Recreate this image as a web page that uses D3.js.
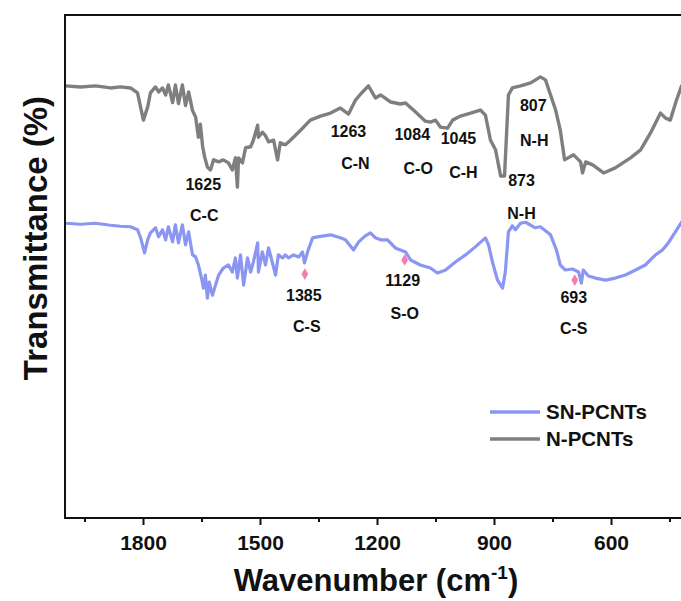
<!DOCTYPE html>
<html>
<head>
<meta charset="utf-8">
<script src="https://cdn.jsdelivr.net/npm/d3@7/dist/d3.min.js"></script>
<style>
  html, body { margin: 0; padding: 0; background: #fff; }
  svg { display: block; }
  text { font-family: "Liberation Sans", Arial, sans-serif; font-weight: bold; fill: #111; }
</style>
</head>
<body>
<svg id="chart" width="681" height="601"></svg>
<script>
// FTIR spectra: wavenumber (cm-1) and transmittance (arb. %)
const nWavenumber = [1999,1960,1922,1883,1858,1832,1814,1799,1788,1781,1768,1760,1750,1742,1735,1724,1717,1709,1699,1691,1683,1673,1665,1658,1653,1647,1642,1635,1627,1619,1606,1594,1581,1571,1563,1558,1555,1545,1537,1524,1517,1506,1504,1494,1486,1478,1465,1455,1448,1435,1422,1396,1371,1345,1319,1294,1273,1255,1237,1222,1204,1191,1165,1140,1127,1101,1076,1063,1050,1037,1019,1006,986,960,935,922,909,896,883,873,863,853,832,806,781,768,755,742,730,719,696,678,673,665,647,619,589,550,524,499,473,460,448,432,419,401];
const nTransmittance = [85.9,85.7,85.9,85.5,85.7,85.5,84.5,79.1,81.7,84.5,85.7,84.7,85.5,84.1,86.1,82.6,86.1,82.4,86.1,82.0,84.7,81.0,79.7,75.7,78.3,73.8,71.8,69.8,69.2,71.2,70.8,71.2,70.6,69.2,71.6,65.8,71.6,70.6,73.6,73.8,75.1,78.1,75.7,76.7,76.0,74.8,75.1,71.2,74.6,74.2,75.1,77.1,79.1,79.9,80.5,81.5,80.3,83.1,84.7,85.9,83.5,84.1,82.7,82.3,82.5,80.7,78.9,78.7,79.1,77.7,77.5,79.1,79.9,80.5,81.1,80.1,75.1,73.2,68.0,68.0,84.1,85.5,85.9,86.5,87.7,87.1,84.1,81.1,77.1,71.2,72.2,70.8,68.6,70.8,70.2,68.6,69.6,71.6,73.2,76.5,80.5,79.5,79.1,83.1,85.9,87.1];

const snWavenumber = [1999,1960,1922,1883,1858,1832,1814,1806,1796,1788,1781,1768,1760,1750,1742,1735,1724,1717,1709,1699,1691,1683,1673,1665,1658,1650,1645,1640,1635,1630,1622,1614,1606,1594,1581,1571,1563,1558,1550,1542,1532,1524,1517,1506,1504,1494,1486,1478,1468,1460,1453,1442,1435,1427,1414,1401,1391,1386,1378,1365,1353,1319,1294,1281,1260,1247,1230,1217,1204,1191,1173,1153,1140,1127,1114,1089,1063,1045,1024,999,973,948,922,914,904,891,878,871,863,853,845,832,819,794,781,755,740,730,717,699,683,676,671,658,640,614,589,563,537,512,486,468,453,435,419,401];
const snTransmittance = [58.6,58.4,58.6,58.2,58.0,57.9,57.3,55.7,52.7,55.3,56.7,57.7,55.9,57.3,55.3,57.9,54.9,58.3,54.7,58.3,54.3,56.9,52.3,51.9,50.3,47.7,45.7,48.3,43.7,46.9,44.3,46.3,48.3,49.7,50.3,48.9,51.7,47.7,52.3,46.3,51.7,48.9,50.9,54.7,48.9,52.9,50.3,53.7,50.7,48.3,52.3,51.7,52.3,51.7,52.3,51.9,52.9,50.7,52.9,55.7,55.9,56.3,55.7,55.3,53.3,54.9,56.1,56.7,55.7,55.3,55.3,53.7,53.3,52.9,51.3,50.3,49.7,48.7,49.3,50.9,52.3,53.9,55.7,54.3,50.9,47.3,45.7,48.9,56.9,58.1,57.3,58.6,58.8,57.7,57.9,56.3,53.3,50.3,49.3,49.5,48.9,46.7,49.3,48.1,47.7,47.3,47.7,48.3,49.3,50.3,52.3,53.3,54.7,56.9,58.8,60.2];

const seriesNames = ["SN-PCNTs", "N-PCNTs"];
const seriesColors = ["#8b96f3", "#7f7f7f"];

// Band assignments
const nBands = [1625, 1263, 1084, 1045, 807, 873];
const nBondLabels = ["C-C", "C-N", "C-O", "C-H", "N-H", "N-H"];
const snBands = [1385, 1129, 693];
const snBondLabels = ["C-S", "S-O", "C-S"];
const snMarkerLevel = [48.5, 51.3, 47.3];

const majorTicks = [1800, 1500, 1200, 900, 600];
const minorTicks = [1950, 1650, 1350, 1050, 750, 450];

// Annotation placement: horizontal shift from the band position, baselines in px
const nLabelLayout = [
  {dx: -8, bdx: -7, num: 190, bond: 221},
  {dx: -4, bdx: 3, num: 137, bond: 169},
  {dx: -10, bdx: -4, num: 140, bond: 174},
  {dx: 21, bdx: 26, num: 144, bond: 178},
  {dx: 3, bdx: 4, num: 111, bond: 146},
  {dx: 17, bdx: 17, num: 186, bond: 219}
];
const snLabelLayout = [
  {dx: -1, bdx: 2, num: 301, bond: 332},
  {dx: -2, bdx: 0, num: 286, bond: 319},
  {dx: -1, bdx: -1, num: 303, bond: 334}
];

const margin = {left: 65, top: 15, bottom: 518};
const svg = d3.select("#chart");

const x = d3.scaleLinear().domain([2000, 400]).range([margin.left, margin.left + 1600 * 0.39]);
const y = d3.scaleLinear().domain([0, 100]).range([margin.bottom, margin.top]);

svg.append("defs").append("clipPath").attr("id", "plotClip")
  .append("rect")
  .attr("x", margin.left).attr("y", margin.top)
  .attr("width", x(400) - margin.left).attr("height", margin.bottom - margin.top);

const line = d3.line().x(d => x(d[0])).y(d => y(d[1])).curve(d3.curveLinear);

const plot = svg.append("g").attr("clip-path", "url(#plotClip)");

plot.append("path")
  .datum(nWavenumber.map((w, i) => [w, nTransmittance[i]]))
  .attr("fill", "none").attr("stroke", seriesColors[1])
  .attr("stroke-width", 3.4).attr("stroke-linejoin", "round")
  .attr("d", line);

plot.append("path")
  .datum(snWavenumber.map((w, i) => [w, snTransmittance[i]]))
  .attr("fill", "none").attr("stroke", seriesColors[0])
  .attr("stroke-width", 3.2).attr("stroke-linejoin", "round")
  .attr("d", line);

// Frame
svg.append("rect")
  .attr("x", margin.left).attr("y", margin.top)
  .attr("width", x(400) - margin.left).attr("height", margin.bottom - margin.top)
  .attr("fill", "none").attr("stroke", "#111").attr("stroke-width", 2);

// Bottom axis
const axisMajor = d3.axisBottom(x).tickValues(majorTicks).tickSize(7).tickPadding(10).tickFormat(d3.format("d"));
const axisMinor = d3.axisBottom(x).tickValues(minorTicks).tickSize(4).tickFormat("");

const gMinor = svg.append("g").attr("transform", `translate(0,${margin.bottom})`).call(axisMinor);
gMinor.select(".domain").remove();
gMinor.selectAll("line").attr("stroke", "#111").attr("stroke-width", 2);

const gMajor = svg.append("g").attr("transform", `translate(0,${margin.bottom})`).call(axisMajor);
gMajor.select(".domain").remove();
gMajor.selectAll("line").attr("stroke", "#111").attr("stroke-width", 2);
gMajor.selectAll("text")
  .style("font-family", "'Liberation Sans', Arial, sans-serif")
  .style("font-weight", "bold").style("font-size", "21px").attr("fill", "#111");

// Axis titles
const xt = svg.append("text")
  .attr("x", 376).attr("y", 591)
  .attr("text-anchor", "middle").style("font-size", "31px");
xt.append("tspan").text("Wavenumber (cm");
xt.append("tspan").attr("dy", -12).style("font-size", "19px").text("-1");
xt.append("tspan").attr("dy", 12).text(")");

svg.append("text")
  .attr("transform", "translate(47,238) rotate(-90)")
  .attr("text-anchor", "middle").style("font-size", "33px")
  .text("Transmittance (%)");

// Band annotations, N-PCNTs
nBands.forEach((b, i) => {
  const L = nLabelLayout[i];
  svg.append("text").attr("x", x(b) + L.dx).attr("y", L.num)
    .attr("text-anchor", "middle").style("font-size", "16px").text(b);
  svg.append("text").attr("x", x(b) + L.bdx).attr("y", L.bond)
    .attr("text-anchor", "middle").style("font-size", "16px").text(nBondLabels[i]);
});

// Band annotations, SN-PCNTs with markers
const diamond = d3.symbol().type(d3.symbolDiamond).size(40);
snBands.forEach((b, i) => {
  const L = snLabelLayout[i];
  svg.append("path").attr("d", diamond)
    .attr("transform", `translate(${x(b)},${y(snMarkerLevel[i])})`)
    .attr("fill", "#f07fb3");
  svg.append("text").attr("x", x(b) + L.dx).attr("y", L.num)
    .attr("text-anchor", "middle").style("font-size", "16px").text(b);
  svg.append("text").attr("x", x(b) + L.bdx).attr("y", L.bond)
    .attr("text-anchor", "middle").style("font-size", "16px").text(snBondLabels[i]);
});

// Legend
const legend = svg.append("g");
seriesNames.forEach((name, i) => {
  const ly = 412 + i * 27;
  legend.append("line").attr("x1", 490).attr("x2", 540).attr("y1", ly).attr("y2", ly)
    .attr("stroke", seriesColors[i]).attr("stroke-width", 3.4);
  legend.append("text").attr("x", 546).attr("y", ly + 7).style("font-size", "20.5px").text(name);
});
</script>
</body>
</html>
